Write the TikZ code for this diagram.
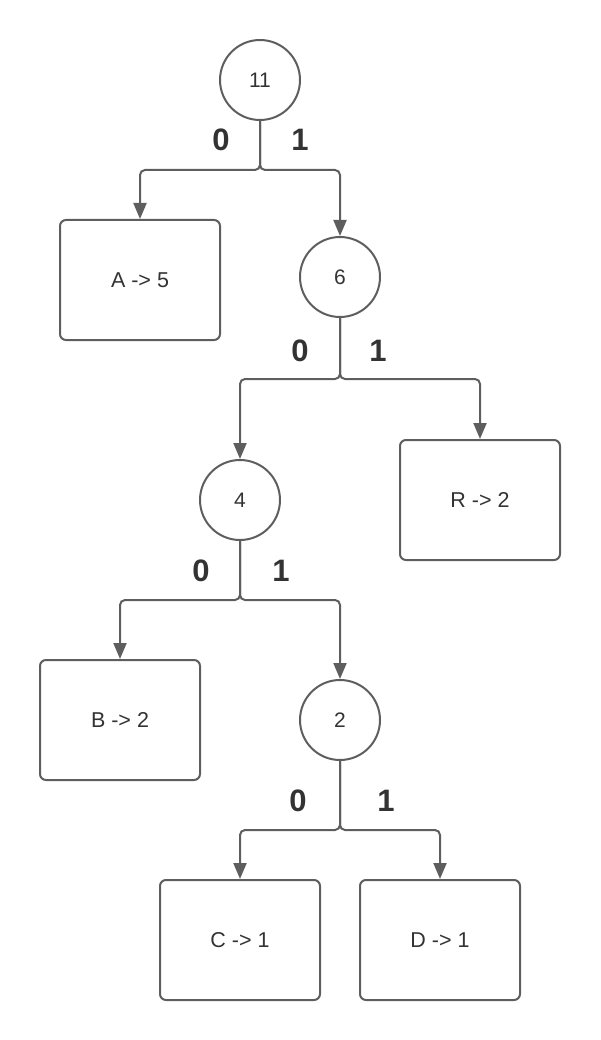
\documentclass[tikz,border=0pt]{standalone}
\usepackage{fontspec}
\setmainfont{Liberation Sans}
\usetikzlibrary{arrows.meta}
\definecolor{ln}{HTML}{5E5E5E}
\definecolor{tx}{HTML}{333333}
\begin{document}
\begin{tikzpicture}[x=1pt,y=-1pt,
  circ/.style={circle,draw=ln,line width=2pt,minimum size=80pt,inner sep=0pt,text=tx,font=\fontsize{21}{24}\selectfont},
  leaf/.style={rectangle,rounded corners=6pt,draw=ln,line width=2pt,minimum width=160pt,minimum height=120pt,inner sep=0pt,text=tx,font=\fontsize{21.5}{24}\selectfont},
  bit/.style={text=tx,font=\fontsize{31}{34}\selectfont\bfseries,inner sep=0pt},
  conn/.style={draw=ln,line width=2pt,rounded corners=5pt,-{Triangle[length=16pt,width=13pt]}}]
\useasboundingbox (0,0) rectangle (600,1040);
\node[circ] (n11) at (260,80) {11};
\node[leaf] (A) at (140,280) {A -> 5};
\node[circ] (n6) at (340,277) {6};
\node[leaf] (R) at (480,500) {R -> 2};
\node[circ] (n4) at (240,500) {4};
\node[leaf] (B) at (120,720) {B -> 2};
\node[circ] (n2) at (340,720) {2};
\node[leaf] (C) at (240,940) {C -> 1};
\node[leaf] (D) at (440,940) {D -> 1};
% connectors
\draw[conn] (n11.south) -- (260,170) -- (140,170) -- (A.north);
\draw[conn] (n11.south) -- (260,170) -- (340,170) -- (n6.north);
\draw[conn] (n6.south) -- (340,379) -- (240,379) -- (n4.north);
\draw[conn] (n6.south) -- (340,379) -- (480,379) -- (R.north);
\draw[conn] (n4.south) -- (240,600) -- (120,600) -- (B.north);
\draw[conn] (n4.south) -- (240,600) -- (340,600) -- (n2.north);
\draw[conn] (n2.south) -- (340,830) -- (240,830) -- (C.north);
\draw[conn] (n2.south) -- (340,830) -- (440,830) -- (D.north);
% labels
\node[bit] (l0a) at (221,140) {0};
\node[bit] (l1a) at (300,140) {1};
\node[bit] (l0b) at (300,351) {0};
\node[bit] (l1b) at (378,351) {1};
\node[bit] (l0c) at (201,571) {0};
\node[bit] (l1c) at (281,571) {1};
\node[bit] (l0d) at (298,801) {0};
\node[bit] (l1d) at (386,801) {1};
\end{tikzpicture}
\end{document}
